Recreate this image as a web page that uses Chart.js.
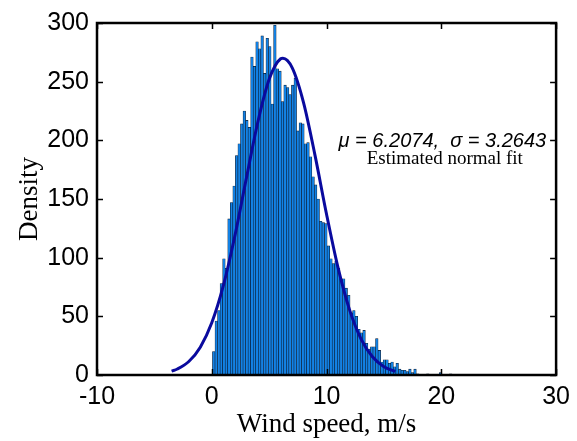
<!DOCTYPE html>
<html>
<head>
<meta charset="utf-8">
<script src="https://cdn.jsdelivr.net/npm/chart.js@4/dist/chart.umd.min.js"></script>
<style>
  html, body { margin: 0; padding: 0; background: #fff; }
  #wrap { width: 577px; height: 441px; }
</style>
</head>
<body>
<div id="wrap"><canvas id="histChart" width="577" height="441"></canvas></div>
<script>
// histogram bins (m/s)
const binStart = 0.06;
const binWidth = 0.222;
const binCounts = [
  20, 46, 55, 78, 99, 91, 133, 147, 161, 187,
  197, 214, 225, 217, 211, 271, 263, 284, 278, 289,
  257, 287, 280, 231, 298, 261, 259, 233, 247, 245,
  239, 247, 253, 208, 215, 214, 197, 198, 186, 169,
  162, 150, 131, 130, 129, 110, 99, 95, 97, 91,
  82, 82, 74, 68, 53, 55, 50, 39, 36, 38,
  27, 22, 24, 24, 31, 21, 11, 13, 13, 10,
  11, 7, 10, 5, 4, 4, 3, 5, 2, 5,
  1, 0, 0, 0, 1, 0, 0, 0, 0, 2,
  0, 0, 0, 1
];

// estimated normal fit
const fitX = [-3.5, -3, -2, -1, 0, 1, 2, 3, 4, 5, 6, 6.2, 7, 8, 9, 10, 11, 12, 13, 14, 15, 16];
const fitY = [3.3, 5.1, 11.5, 23.7, 44.5, 75.9, 118, 167, 215, 252, 269.5, 270, 262, 232, 187, 137, 91.5, 55.7, 30.8, 15.5, 7.1, 3.0];

const xTicks = [-10, 0, 10, 20, 30];
const yTicks = [0, 50, 100, 150, 200, 250, 300];

const fitLabel = 'μ = 6.2074,  σ = 3.2643';
const fitNote = 'Estimated normal fit';

const barData = binCounts.map((c, i) => ({ x: binStart + binWidth * (i + 0.5), y: c }));
const lineData = fitX.map((x, i) => ({ x: x, y: fitY[i] }));

const framePlugin = {
  id: 'matlabFrame',
  afterDraw(chart) {
    const { ctx, chartArea, scales } = chart;
    const { left, right, top, bottom } = chartArea;
    ctx.save();
    ctx.strokeStyle = '#000';
    ctx.lineWidth = 1.5;
    const tl = 6;
    ctx.beginPath();
    xTicks.forEach(v => {
      const px = Math.round(scales.x.getPixelForValue(v)) + 0.5;
      ctx.moveTo(px, bottom); ctx.lineTo(px, bottom - tl);
      ctx.moveTo(px, top); ctx.lineTo(px, top + tl);
    });
    yTicks.forEach(v => {
      const py = Math.round(scales.y.getPixelForValue(v)) + 0.5;
      ctx.moveTo(left, py); ctx.lineTo(left + tl, py);
      ctx.moveTo(right, py); ctx.lineTo(right - tl, py);
    });
    ctx.stroke();
    ctx.lineWidth = 2.5;
    ctx.strokeRect(left, top, right - left, bottom - top);

    // annotation
    ctx.fillStyle = '#000';
    ctx.textBaseline = 'middle';
    ctx.textAlign = 'left';
    ctx.font = 'italic 20px "Liberation Sans", Arial, sans-serif';
    ctx.fillText(fitLabel, scales.x.getPixelForValue(11.05), scales.y.getPixelForValue(199));
    ctx.textAlign = 'center';
    ctx.font = '19px "Liberation Serif", "Times New Roman", serif';
    ctx.fillText(fitNote, scales.x.getPixelForValue(20.3), scales.y.getPixelForValue(184));
    ctx.restore();
  }
};

new Chart(document.getElementById('histChart'), {
  type: 'bar',
  data: {
    datasets: [
      {
        type: 'line',
        data: lineData,
        borderColor: '#0a0a9e',
        borderWidth: 3,
        pointRadius: 0,
        cubicInterpolationMode: 'monotone',
        fill: false,
        order: 0,
      },
      {
        type: 'bar',
        data: barData,
        backgroundColor: '#1282e6',
        borderColor: '#0b1a2e',
        borderWidth: 0.6,
        barPercentage: 1,
        categoryPercentage: 1,
        order: 1,
      },
    ],
  },
  options: {
    responsive: false,
    animation: false,
    layout: { padding: { left: 0, top: 18, right: 20, bottom: 0 } },
    plugins: {
      legend: { display: false },
      tooltip: { enabled: false },
    },
    scales: {
      x: {
        type: 'linear',
        min: -10,
        max: 30,
        offset: false,
        afterBuildTicks(scale) { scale.ticks = xTicks.map(v => ({ value: v })); },
        afterFit(scale) { scale.height = 66; },
        grid: { display: false, drawTicks: false, offset: false },
        border: { display: false },
        ticks: {
          color: '#000',
          padding: 7,
          maxRotation: 0,
          font: { family: '"Liberation Sans", Arial, sans-serif', size: 25 },
        },
        title: {
          display: true,
          text: 'Wind speed, m/s',
          color: '#000',
          padding: { top: 2, bottom: 0 },
          font: { family: '"Liberation Serif", "Times New Roman", serif', size: 27 },
        },
      },
      y: {
        type: 'linear',
        min: 0,
        max: 300,
        afterBuildTicks(scale) { scale.ticks = yTicks.map(v => ({ value: v })); },
        afterFit(scale) { scale.width = 97; },
        grid: { display: false, drawTicks: false },
        border: { display: false },
        ticks: {
          color: '#000',
          padding: 8,
          font: { family: '"Liberation Sans", Arial, sans-serif', size: 25 },
        },
        title: {
          display: true,
          text: 'Density',
          color: '#000',
          padding: { top: 14, bottom: 0 },
          font: { family: '"Liberation Serif", "Times New Roman", serif', size: 27 },
        },
      },
    },
  },
  plugins: [framePlugin],
});
</script>
</body>
</html>
